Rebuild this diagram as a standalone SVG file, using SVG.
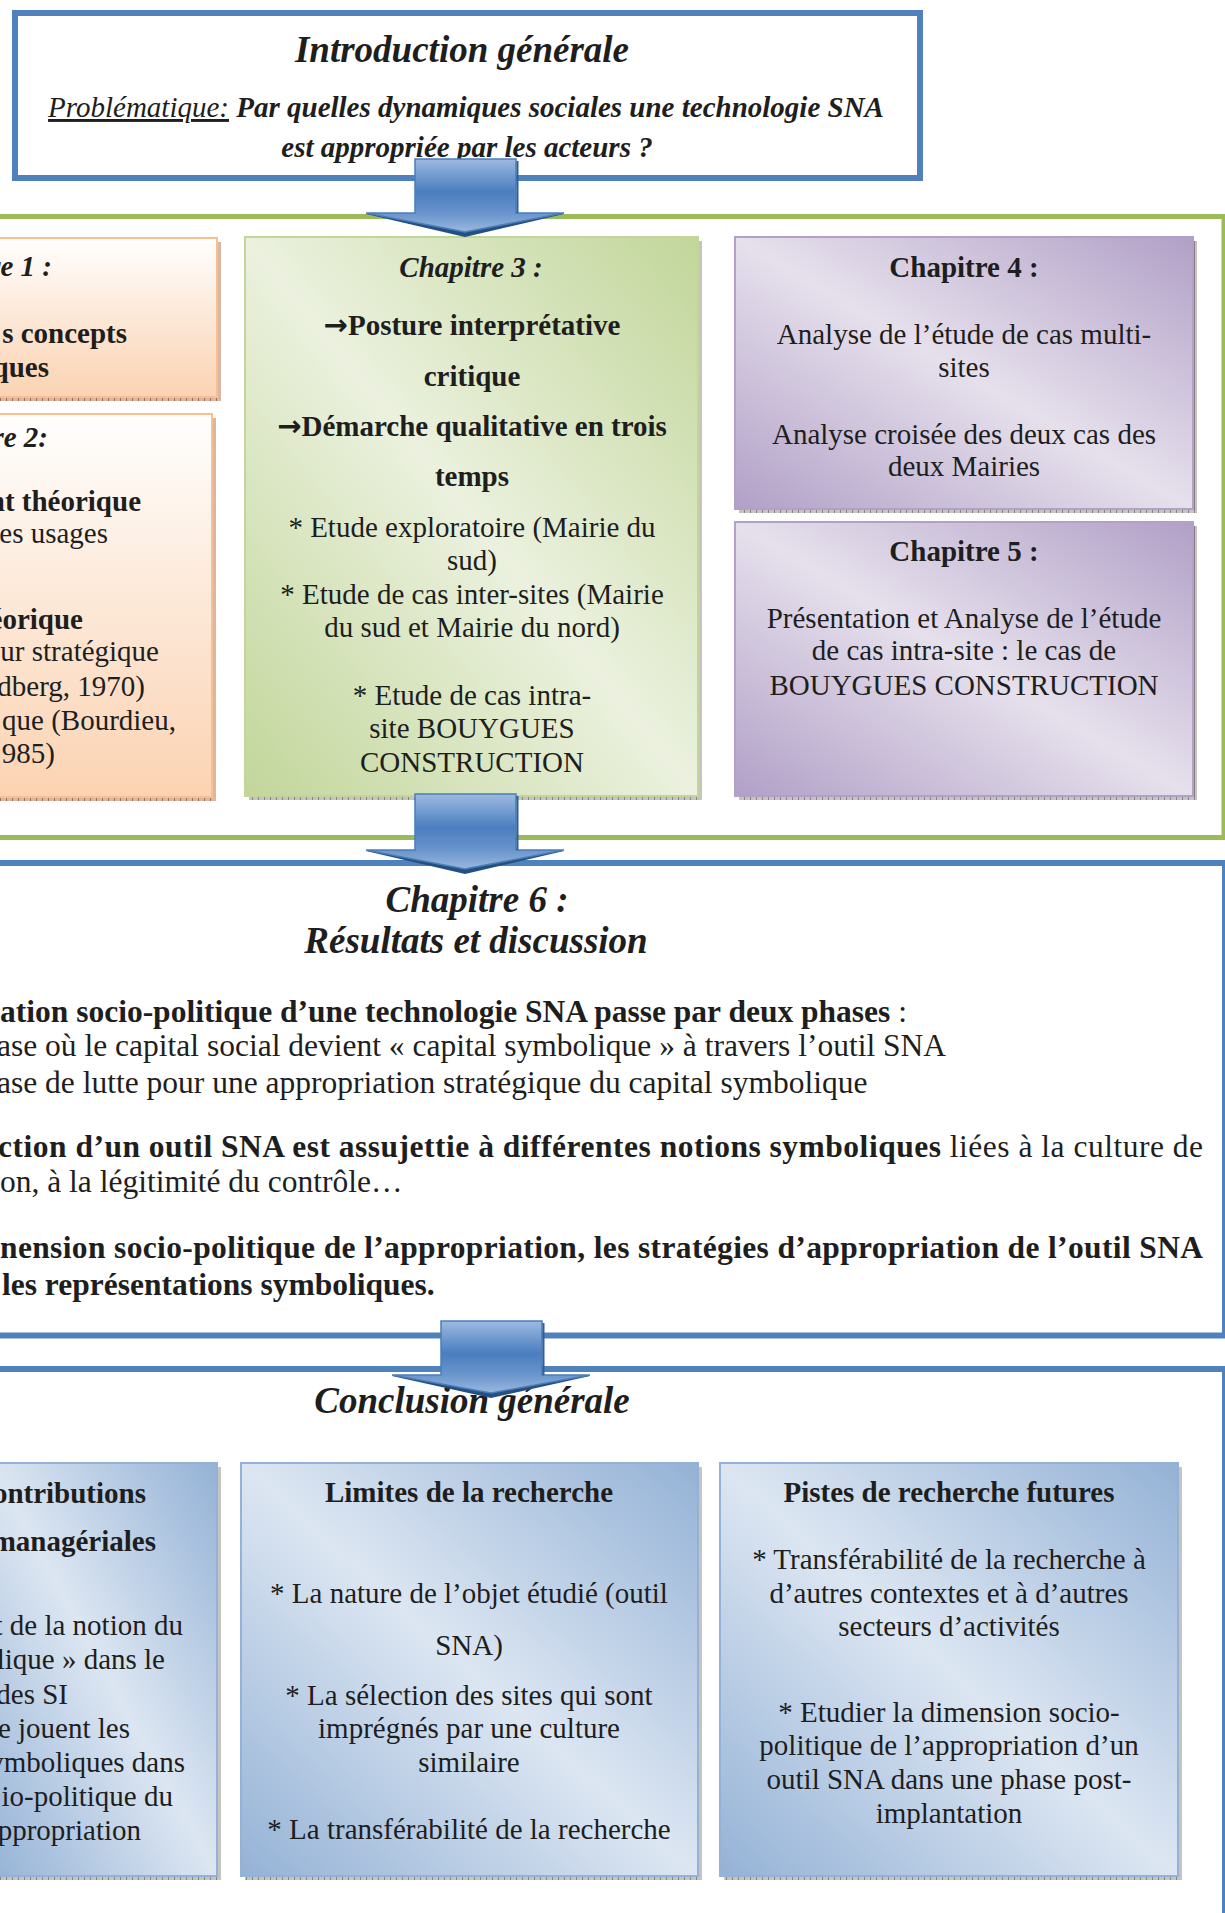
<svg xmlns="http://www.w3.org/2000/svg" width="1225" height="1913" viewBox="0 0 1225 1913">
<defs>
<style>
text{font-family:'Liberation Serif','Times New Roman',serif;fill:#1e1e1e;font-size:29px}
.b{font-weight:bold}
.i{font-style:italic}
.ttl{font-size:37px;font-weight:bold;font-style:italic}
.c6{font-size:31.5px}
.m{text-anchor:middle}
.e{text-anchor:end}
.arr{font-family:'DejaVu Sans',sans-serif;font-weight:bold;font-size:29px}
.blueframe{fill:#fff;stroke:#4F81BD;stroke-width:6}
.arrowface{fill:url(#gArrow);stroke:#4a7ebb;stroke-width:1.5}
.arrowdark{fill:#24507f}
</style>
<linearGradient id="gOrange" x1="0" y1="0" x2="0" y2="1">
<stop offset="0" stop-color="#FFFFFF"/><stop offset="0.45" stop-color="#FDEADB"/><stop offset="1" stop-color="#FBD3B2"/>
</linearGradient>
<linearGradient id="gGreen" x1="1" y1="0" x2="0" y2="1">
<stop offset="0" stop-color="#C2D69A"/><stop offset="0.5" stop-color="#EBF1DE"/><stop offset="1" stop-color="#C2D69A"/>
</linearGradient>
<linearGradient id="gPurple" x1="1" y1="0" x2="0" y2="1">
<stop offset="0" stop-color="#B1A0C7"/><stop offset="0.5" stop-color="#E6E0EC"/><stop offset="1" stop-color="#B1A0C7"/>
</linearGradient>
<linearGradient id="gBlue" x1="1" y1="0" x2="0" y2="1">
<stop offset="0" stop-color="#94B2D6"/><stop offset="0.5" stop-color="#DCE6F2"/><stop offset="1" stop-color="#94B2D6"/>
</linearGradient>
<linearGradient id="gArrow" x1="0" y1="0" x2="0" y2="1">
<stop offset="0" stop-color="#9DBAE0"/><stop offset="0.45" stop-color="#4A7EBF"/><stop offset="0.74" stop-color="#6994CC"/><stop offset="1" stop-color="#9AB8DE"/>
</linearGradient>
<pattern id="hatch" width="6" height="6" patternUnits="userSpaceOnUse">
<rect width="6" height="6" fill="#c6c3c0"/><path d="M0.5,0V6" stroke="#858280" stroke-width="1"/>
</pattern>
<pattern id="hatchO" width="6" height="6" patternUnits="userSpaceOnUse">
<rect width="6" height="6" fill="#d9b7a3"/><path d="M0.5,0V6" stroke="#a0705c" stroke-width="1"/>
</pattern>
</defs>

<rect width="1225" height="1913" fill="#ffffff"/>

<g id="middle-frame">
<rect x="-10" y="216.5" width="1234" height="621" fill="#fff" stroke="#9BBB59" stroke-width="5"/>
</g>

<g id="introduction">
<rect x="15" y="13" width="905" height="165" class="blueframe"/>
<text x="462" y="62" class="ttl m">Introduction générale</text>
<text x="466" y="117" class="m" font-size="29.2"><tspan class="i" text-decoration="underline">Problématique:</tspan><tspan class="b i"> Par quelles dynamiques sociales une technologie SNA</tspan></text>
<text x="467" y="157" class="b i m" font-size="29.2">est appropriée par les acteurs ?</text>
</g>

<g id="chapitre1">
<rect x="-6" y="242" width="227" height="159" fill="url(#hatchO)"/>
<rect x="-10" y="238" width="227" height="159" fill="url(#gOrange)" stroke="#F9BF8F" stroke-width="2"/>
<text x="52" y="276" class="b i e">re 1 :</text>
<text x="127" y="343" class="b e">s concepts</text>
<text x="49" y="377" class="b e">ques</text>
</g>

<g id="chapitre2">
<rect x="-6" y="418" width="222" height="383" fill="url(#hatchO)"/>
<rect x="-10" y="414" width="222" height="383" fill="url(#gOrange)" stroke="#F9BF8F" stroke-width="2"/>
<text x="48" y="447" class="b i e">re 2:</text>
<text x="141" y="511" class="b e">nt théorique</text>
<text x="108" y="543" class="e">es usages</text>
<text x="83" y="629" class="b e">éorique</text>
<text x="159" y="661" class="e">ur stratégique</text>
<text x="145" y="696" class="e">dberg, 1970)</text>
<text x="176" y="730" class="e">que (Bourdieu,</text>
<text x="55" y="763" class="e">985)</text>
</g>

<g id="chapitre3">
<rect x="249" y="241" width="453" height="559" fill="url(#hatch)"/>
<rect x="245" y="237" width="453" height="559" fill="url(#gGreen)" stroke="#C2D69A" stroke-width="2"/>
<text x="471" y="277" class="b i m">Chapitre 3 :</text>
<text x="472" y="335" class="b m"><tspan class="arr">→</tspan>Posture interprétative</text>
<text x="472" y="386" class="b m">critique</text>
<text x="472" y="436" class="b m"><tspan class="arr">→</tspan>Démarche qualitative en trois</text>
<text x="472" y="486" class="b m">temps</text>
<text x="472" y="537" class="m">* Etude exploratoire (Mairie du</text>
<text x="472" y="570" class="m">sud)</text>
<text x="472" y="604" class="m">* Etude de cas inter-sites (Mairie</text>
<text x="472" y="637" class="m">du sud et Mairie du nord)</text>
<text x="472" y="705" class="m">* Etude de cas intra-</text>
<text x="472" y="738" class="m">site BOUYGUES</text>
<text x="472" y="772" class="m">CONSTRUCTION</text>
</g>

<g id="chapitre4">
<rect x="739" y="241" width="458" height="272" fill="url(#hatch)"/>
<rect x="735" y="237" width="458" height="272" fill="url(#gPurple)" stroke="#B1A0C7" stroke-width="2"/>
<text x="964" y="277" class="b m">Chapitre 4 :</text>
<text x="964" y="344" class="m">Analyse de l’étude de cas multi-</text>
<text x="964" y="377" class="m">sites</text>
<text x="964" y="444" class="m">Analyse croisée des deux cas des</text>
<text x="964" y="476" class="m">deux Mairies</text>
</g>

<g id="chapitre5">
<rect x="739" y="526" width="458" height="274" fill="url(#hatch)"/>
<rect x="735" y="522" width="458" height="274" fill="url(#gPurple)" stroke="#B1A0C7" stroke-width="2"/>
<text x="964" y="561" class="b m">Chapitre 5 :</text>
<text x="964" y="628" class="m">Présentation et Analyse de l’étude</text>
<text x="964" y="660" class="m">de cas intra-site : le cas de</text>
<text x="964" y="695" class="m">BOUYGUES CONSTRUCTION</text>
</g>

<g id="chapitre6">
<rect x="-10" y="863" width="1235" height="472.5" class="blueframe"/>
<text x="477" y="912" class="ttl m">Chapitre 6 :</text>
<text x="476" y="953" class="ttl m">Résultats et discussion</text>
<text x="0" y="1022" class="c6"><tspan class="b">ation socio-politique d’une technologie SNA passe par deux phases</tspan> :</text>
<text x="-3" y="1056" class="c6">ase où le capital social devient « capital symbolique » à travers l’outil SNA</text>
<text x="-3" y="1093" class="c6">ase de lutte pour une appropriation stratégique du capital symbolique</text>
<text x="-2" y="1157" class="c6" textLength="1205" lengthAdjust="spacing"><tspan class="b">ction d’un outil SNA est assujettie à différentes notions symboliques</tspan> liées à la culture de</text>
<text x="0" y="1192" class="c6">on, à la légitimité du contrôle…</text>
<text x="0" y="1258" class="c6 b" textLength="1203" lengthAdjust="spacing">nension socio-politique de l’appropriation, les stratégies d’appropriation de l’outil SNA</text>
<text x="2" y="1295" class="c6 b">les représentations symboliques.</text>
</g>

<g id="conclusion">
<rect x="-10" y="1369" width="1235" height="640" class="blueframe"/>
<text x="472" y="1413" class="ttl m">Conclusion générale</text>
</g>

<g id="contributions">
<rect x="-6" y="1467" width="227" height="413" fill="url(#hatch)"/>
<rect x="-10" y="1463" width="227" height="413" fill="url(#gBlue)" stroke="#94B2D6" stroke-width="2"/>
<text x="146" y="1503" class="b e">ontributions</text>
<text x="156" y="1551" class="b e">managériales</text>
<text x="183" y="1635" class="e">t de la notion du</text>
<text x="165" y="1669" class="e">lique » dans le</text>
<text x="68" y="1704" class="e">des SI</text>
<text x="130" y="1738" class="e">e jouent les</text>
<text x="185" y="1772" class="e">ymboliques dans</text>
<text x="173" y="1806" class="e">io-politique du</text>
<text x="141" y="1840" class="e">ppropriation</text>
</g>

<g id="limites">
<rect x="245" y="1467" width="457" height="413" fill="url(#hatch)"/>
<rect x="241" y="1463" width="457" height="413" fill="url(#gBlue)" stroke="#94B2D6" stroke-width="2"/>
<text x="469" y="1502" class="b m">Limites de la recherche</text>
<text x="469" y="1603" class="m">* La nature de l’objet étudié (outil</text>
<text x="469" y="1655" class="m">SNA)</text>
<text x="469" y="1705" class="m">* La sélection des sites qui sont</text>
<text x="469" y="1738" class="m">imprégnés par une culture</text>
<text x="469" y="1772" class="m">similaire</text>
<text x="469" y="1839" class="m">* La transférabilité de la recherche</text>
</g>

<g id="pistes">
<rect x="724" y="1467" width="458" height="413" fill="url(#hatch)"/>
<rect x="720" y="1463" width="458" height="413" fill="url(#gBlue)" stroke="#94B2D6" stroke-width="2"/>
<text x="949" y="1502" class="b m">Pistes de recherche futures</text>
<text x="949" y="1569" class="m">* Transférabilité de la recherche à</text>
<text x="949" y="1603" class="m">d’autres contextes et à d’autres</text>
<text x="949" y="1636" class="m">secteurs d’activités</text>
<text x="949" y="1722" class="m">* Etudier la dimension socio-</text>
<text x="949" y="1755" class="m">politique de l’appropriation d’un</text>
<text x="949" y="1789" class="m">outil SNA dans une phase post-</text>
<text x="949" y="1823" class="m">implantation</text>
</g>

<g id="connectors">
<g id="arrow-intro-chapitres">
<polygon class="arrowdark" points="366,214 564,214 465,237"/>
<path class="arrowface" d="M415,159H516V213H564L465,232L366,213H415Z"/>
<path d="M517.5,161V213" stroke="#2f5f99" stroke-width="2"/>
</g>
<g id="arrow-chapitres-ch6">
<polygon class="arrowdark" points="366,851 564,851 465,874"/>
<path class="arrowface" d="M415,794H516V850H564L465,869L366,850H415Z"/>
<path d="M517.5,796V850" stroke="#2f5f99" stroke-width="2"/>
</g>
<g id="arrow-ch6-conclusion">
<polygon class="arrowdark" points="392,1376 590,1376 491,1398"/>
<path class="arrowface" d="M441,1321H542V1375H590L491,1393L392,1375H441Z"/>
<path d="M543.5,1323V1375" stroke="#2f5f99" stroke-width="2"/>
</g>
</g>
</svg>
